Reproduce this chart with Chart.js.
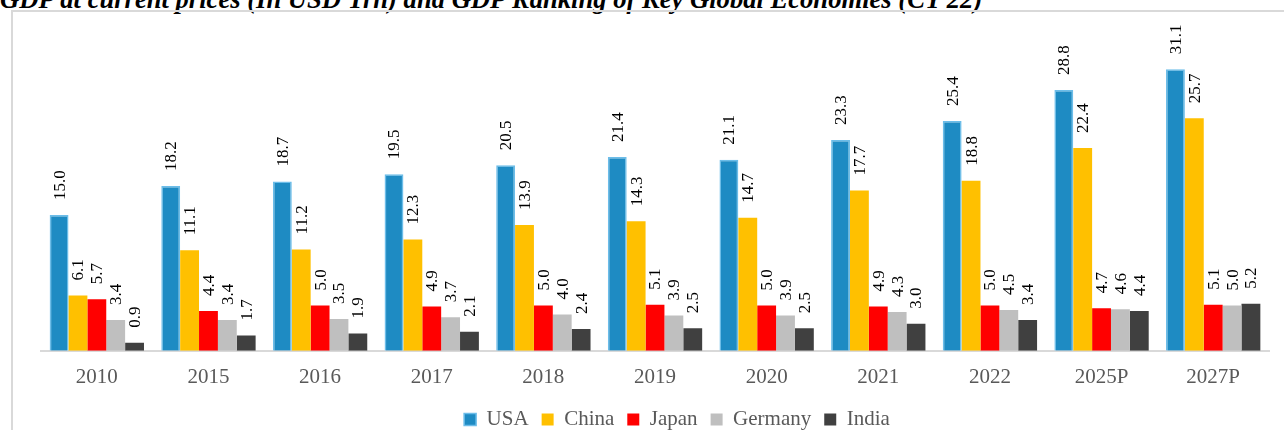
<!DOCTYPE html>
<html>
<head>
<meta charset="utf-8">
<script src="https://cdn.jsdelivr.net/npm/chart.js@4.4.1/dist/chart.umd.min.js"></script>
<style>
    body { margin: 0; background: #fff; }
    #wrap { position: relative; width: 1284px; height: 430px; overflow: hidden; }
    #title {
        position: absolute; left: 0; top: -16.5px; white-space: nowrap; line-height: 27px;
        font: italic bold 26.6px "Liberation Serif", "Times New Roman", serif; color: #000;
    }
    #box {
        position: absolute; left: 11px; top: 10px; width: 1400px; height: 500px;
        border-top: 2px solid #d9d9d9; border-left: 2px solid #d9d9d9;
    }
    #chart { position: absolute; left: 0; top: 0; }
</style>
</head>
<body>
<div id="wrap">
    <div id="title">GDP at current prices (In USD Trn) and GDP Ranking of Key Global Economies (CY 22)</div>
    <div id="box"></div>
    <canvas id="chart" width="1284" height="440"></canvas>
</div>
<script>
const years = ['2010', '2015', '2016', '2017', '2018', '2019', '2020', '2021', '2022', '2025P', '2027P'];
const usa = [15.0, 18.2, 18.7, 19.5, 20.5, 21.4, 21.1, 23.3, 25.4, 28.8, 31.1];
const china = [6.1, 11.1, 11.2, 12.3, 13.9, 14.3, 14.7, 17.7, 18.8, 22.4, 25.7];
const japan = [5.7, 4.4, 5.0, 4.9, 5.0, 5.1, 5.0, 4.9, 5.0, 4.7, 5.1];
const germany = [3.4, 3.4, 3.5, 3.7, 4.0, 3.9, 3.9, 4.3, 4.5, 4.6, 5.0];
const india = [0.9, 1.7, 1.9, 2.1, 2.4, 2.5, 2.5, 3.0, 3.4, 4.4, 5.2];

const serif = "'Liberation Serif', 'Times New Roman', serif";

// rotated value labels above each bar
const barLabels = {
    id: 'barLabels',
    afterDatasetsDraw(chart) {
        const ctx = chart.ctx;
        ctx.save();
        ctx.font = '17px ' + serif;
        ctx.fillStyle = '#000';
        ctx.textAlign = 'left';
        ctx.textBaseline = 'middle';
        chart.data.datasets.forEach((ds, i) => {
            chart.getDatasetMeta(i).data.forEach((bar, j) => {
                ctx.save();
                ctx.translate(bar.x + 1, bar.y - 15);
                ctx.rotate(-Math.PI / 2);
                ctx.fillText(ds.data[j].toFixed(1), 0, 0);
                ctx.restore();
            });
        });
        ctx.restore();
    }
};

// legend sits a little right of centre in the original
const legendShift = {
    id: 'legendShift',
    afterLayout(chart) {
        chart.legend.left += 22;
        chart.legend.right += 22;
    }
};

function drawChart() {
    new Chart(document.getElementById('chart'), {
        type: 'bar',
        data: {
            labels: years,
            datasets: [
                { label: 'USA', data: usa, backgroundColor: '#1e8bc3', borderColor: '#6cbde9', borderWidth: 1.5 },
                { label: 'China', data: china, backgroundColor: '#ffc000' },
                { label: 'Japan', data: japan, backgroundColor: '#ff0000' },
                { label: 'Germany', data: germany, backgroundColor: '#bfbfbf' },
                { label: 'India', data: india, backgroundColor: '#404040' }
            ]
        },
        options: {
            responsive: false,
            animation: false,
            layout: { padding: { left: 41, right: 15, top: 34, bottom: 0 } },
            datasets: { bar: { categoryPercentage: 0.845, barPercentage: 1 } },
            scales: {
                x: {
                    grid: { display: false },
                    border: { color: '#d9d9d9', width: 2 },
                    ticks: { color: '#595959', font: { family: serif, size: 21 }, padding: 6 }
                },
                y: { display: false, min: 0, max: 35 }
            },
            plugins: {
                legend: {
                    position: 'bottom',
                    labels: {
                        color: '#595959',
                        font: { family: serif, size: 21 },
                        boxWidth: 12, boxHeight: 12, padding: 13
                    }
                },
                tooltip: { enabled: false }
            }
        },
        plugins: [barLabels, legendShift]
    });
}

Promise.all([
    document.fonts.load("17px 'Liberation Serif'"),
    document.fonts.load("21px 'Liberation Serif'")
]).then(drawChart, drawChart);
</script>
</body>
</html>
